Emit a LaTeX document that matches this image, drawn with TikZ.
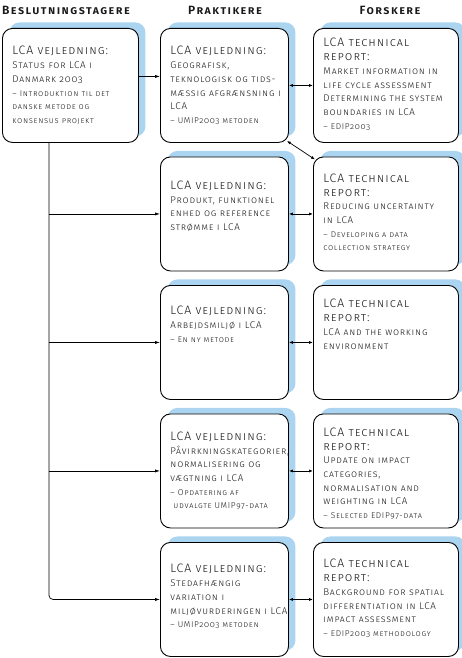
\documentclass[tikz,border=0pt]{standalone}
\usepackage{fontspec}
\setmainfont{Fira Sans Light}[Numbers=OldStyle, Letters=SmallCaps, LetterSpace=8]
\newfontfamily\headfont{Fira Sans SemiBold}[Numbers=OldStyle, Letters=SmallCaps, LetterSpace=12]
\usepackage{tikz}
\usetikzlibrary{positioning, shadows, arrows.meta, calc}
\definecolor{shadowblue}{RGB}{170,212,240}
\definecolor{textgray}{RGB}{25,25,25}
\tikzset{
	card/.style={draw, line width=0.9pt, rounded corners=10pt, fill=white,
		anchor=north west, inner sep=0pt, text=textgray,
		drop shadow={shadow xshift=7pt, shadow yshift=6pt, fill=shadowblue, opacity=1}}
}
\tikzset{
	colhead/.style={font=\headfont\fontsize{12}{14}\selectfont, text=textgray}
}
\tikzset{
	link/.style={line width=0.7pt, -{Latex[length=5pt,width=3.2pt]}},
	twoway/.style={line width=0.7pt, {Latex[length=4pt,width=3pt]}-{Latex[length=4pt,width=3pt]}}
}
\newcommand{\hd}{\fontsize{12.2}{13.7}\selectfont}
\newcommand{\bd}{\fontsize{9.8}{13.7}\selectfont}
\newcommand{\sm}{\fontsize{8.4}{13.7}\selectfont}
% card contents: [top gap]{box width}{lines}
\newcommand{\cardtxt}[3][20pt]{\begin{minipage}[t][114pt][t]{#2}%
	\vspace*{#1}\hspace*{10pt}\begin{minipage}[t]{#2}\fontsize{9}{13.7}\selectfont
	\raggedright #3\end{minipage}\end{minipage}}

\begin{document}
\begin{tikzpicture}[x=1pt, y=-1pt]
	\useasboundingbox (0,0) rectangle (462,658);

	% column heads
	\node[colhead] (hbes) at (66,10) {Beslutningstagere};
	\node[colhead] (hpra) at (225,10) {Praktikere};
	\node[colhead] (hfor) at (390,10) {Forskere};

	% decision makers
	\node[card] (b1) at (2,28) {\cardtxt[18pt]{136pt}{{\hd LCA vejledning:}\\
		{\bd Status for LCA i}\\ {\bd Danmark 2003}\\
		{\sm -- Introduktion til det}\\ {\sm danske metode og}\\ {\sm konsensus projekt}}};

	% practitioners
	\node[card] (p1) at (160,28) {\cardtxt[18pt]{128pt}{{\hd LCA vejledning:}\\
		{\bd Geografisk,}\\ {\bd teknologisk og tids-}\\ {\bd mæssig afgrænsning i}\\ {\bd LCA}\\
		{\sm -- UMIP2003 metoden}}};
	\node[card] (p2) at (160,156.5) {\cardtxt[24pt]{128pt}{{\hd LCA vejledning:}\\
		{\bd Produkt, funktionel}\\ {\bd enhed og reference}\\ {\bd strømme i LCA}}};
	\node[card] (p3) at (160,285) {\cardtxt[21pt]{128pt}{{\hd LCA vejledning:}\\
		{\bd Arbejdsmiljø i LCA}\\ {\sm -- En ny metode}}};
	\node[card] (p4) at (160,413.5) {\cardtxt[18pt]{128pt}{{\hd LCA vejledning:}\\
		{\bd Påvirkningskategorier,}\\ {\bd normalisering og}\\ {\bd vægtning i LCA}\\
		{\sm -- Opdatering af}\\ {\sm\hspace*{3pt}udvalgte UMIP97-data}}};
	\node[card] (p5) at (160,542) {\cardtxt[22pt]{128pt}{{\hd LCA vejledning:}\\
		{\bd Stedafhængig}\\ {\bd variation i}\\ {\bd miljøvurderingen i LCA}\\
		{\sm -- UMIP2003 metoden}}};

	% researchers
	\node[card] (r1) at (313,28) {\cardtxt[10pt]{145pt}{{\hd LCA technical}\\ {\hd report:}\\
		{\bd Market information in}\\ {\bd life cycle assessment}\\
		{\bd Determining the system}\\ {\bd boundaries in LCA}\\ {\sm -- EDIP2003}}};
	\node[card] (r2) at (313,156.5) {\cardtxt[17pt]{145pt}{{\hd LCA technical}\\ {\hd report:}\\
		{\bd Reducing uncertainty}\\ {\bd in LCA}\\
		{\sm -- Developing a data}\\ {\sm collection strategy}}};
	\node[card] (r3) at (313,285) {\cardtxt[14pt]{145pt}{{\hd LCA technical}\\ {\hd report:}\\
		{\bd LCA and the working}\\ {\bd environment}}};
	\node[card] (r4) at (313,413.5) {\cardtxt[14pt]{145pt}{{\hd LCA technical}\\ {\hd report:}\\
		{\bd Update on impact}\\ {\bd categories,}\\ {\bd normalisation and}\\
		{\bd weighting in LCA}\\ {\sm -- Selected EDIP97-data}}};
	\node[card] (r5) at (313,542) {\cardtxt[17pt]{145pt}{{\hd LCA technical}\\ {\hd report:}\\
		{\bd Background for spatial}\\ {\bd differentiation in LCA}\\
		{\bd impact assessment}\\ {\sm -- EDIP2003 methodology}}};

	% connectors
	\coordinate (trunk) at (49,0);
	\draw[link] ([yshift=9pt]b1.east) -- ([yshift=9pt]p1.west);
	\draw[link, rounded corners=4pt] (b1.south -| trunk) -- (trunk |- p5.west) -- (p5.west);
	\draw[link] (trunk |- p2.west) -- (p2.west);
	\draw[link] (trunk |- p3.west) -- (p3.west);
	\draw[link] (trunk |- p4.west) -- (p4.west);
	\draw[twoway] (p1.east) -- (r1.west);
	\draw[twoway] (p2.east) -- (r2.west);
	\draw[twoway] (p3.east) -- (r3.west);
	\draw[twoway] (p4.east) -- (r4.west);
	\draw[twoway] (p5.east) -- (r5.west);
	\draw[twoway] ([xshift=-2pt,yshift=2pt]p1.south east) -- ([xshift=2pt,yshift=-3pt]r2.north west);
\end{tikzpicture}
\end{document}
